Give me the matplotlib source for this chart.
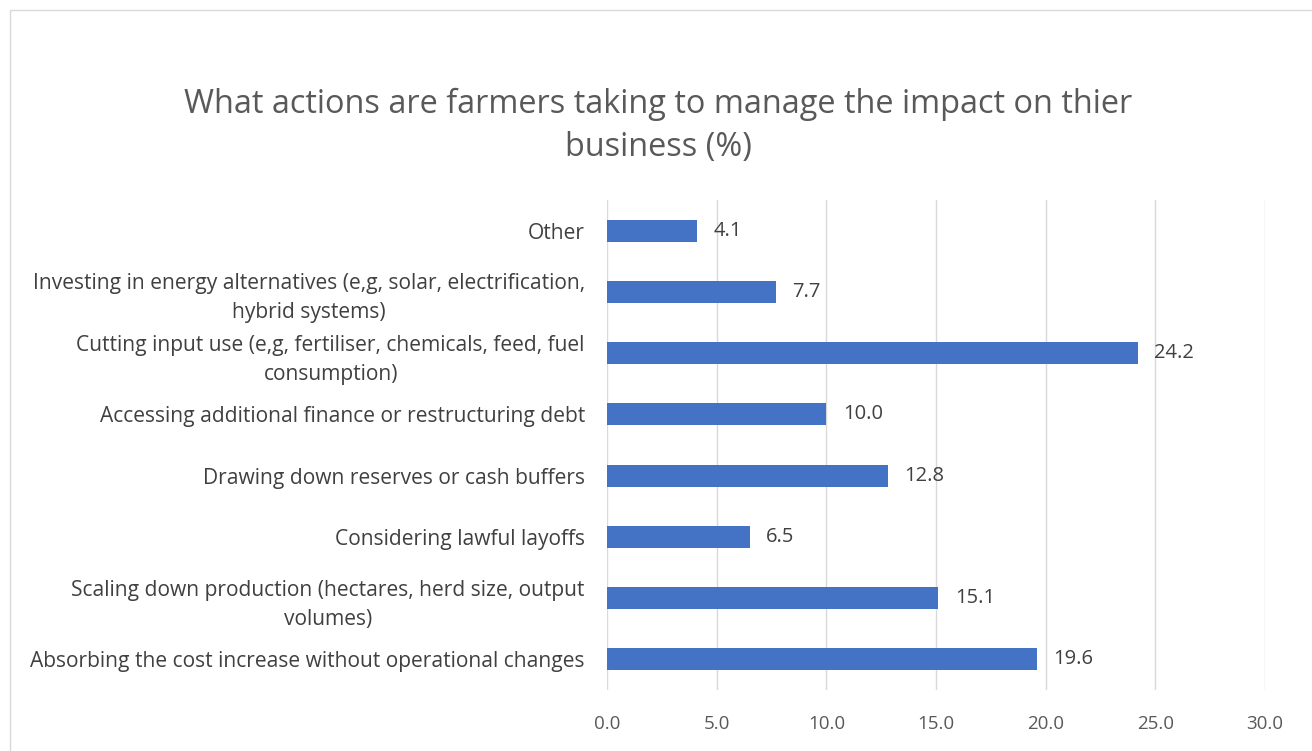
import matplotlib.pyplot as plt
from matplotlib.patches import Rectangle

categories = [
    "Absorbing the cost increase without operational changes",
    "Scaling down production (hectares, herd size, output\nvolumes)",
    "Considering lawful layoffs",
    "Drawing down reserves or cash buffers",
    "Accessing additional finance or restructuring debt",
    "Cutting input use (e,g, fertiliser, chemicals, feed, fuel\nconsumption)",
    "Investing in energy alternatives (e,g, solar, electrification,\nhybrid systems)",
    "Other",
]
values = [19.6, 15.1, 6.5, 12.8, 10.0, 24.2, 7.7, 4.1]
x_ticks = [0, 5, 10, 15, 20, 25, 30]

plt.rcParams["font.family"] = ["Open Sans", "DejaVu Sans"]

fig = plt.figure(figsize=(13.12, 7.51), dpi=100)
ax = fig.add_axes([0.4627, 0.0812, 0.5015, 0.6525])

y = list(range(len(categories)))
bars = ax.barh(y, values, height=0.36, color="#4472C4", zorder=3)
for bar, v in zip(bars, values):
    ax.text(v + 0.75, bar.get_y() + bar.get_height() / 2, f"{v:.1f}",
            va="center", ha="left", fontsize=14.5, color="#404040")

ax.set_xlim(0, 30)
ax.set_ylim(-0.5, len(categories) - 0.5)
ax.set_xticks(x_ticks)
ax.set_xticklabels([f"{t:.1f}" for t in x_ticks], fontsize=13.5, color="#595959")
ax.set_yticks(y)
ax.set_yticklabels(categories, fontsize=15.1, color="#404040",
                   multialignment="center", linespacing=1.5)
ax.tick_params(axis="both", length=0)
ax.tick_params(axis="x", pad=18)
ax.tick_params(axis="y", pad=16)
ax.grid(axis="x", color="#D9D9D9", linewidth=1, zorder=0)
for s in ax.spines.values():
    s.set_visible(False)

fig.text(0.502, 0.832, "What actions are farmers taking to manage the impact on thier\nbusiness (%)",
         ha="center", va="center", fontsize=23.4, color="#595959", linespacing=1.4)

fig.patches.append(Rectangle((10 / 1312, -0.01), 1.0, 1 - 10 / 751 + 0.01,
                             transform=fig.transFigure, fill=False,
                             edgecolor="#D9D9D9", linewidth=1))

fig.savefig("out.png", dpi=100)
